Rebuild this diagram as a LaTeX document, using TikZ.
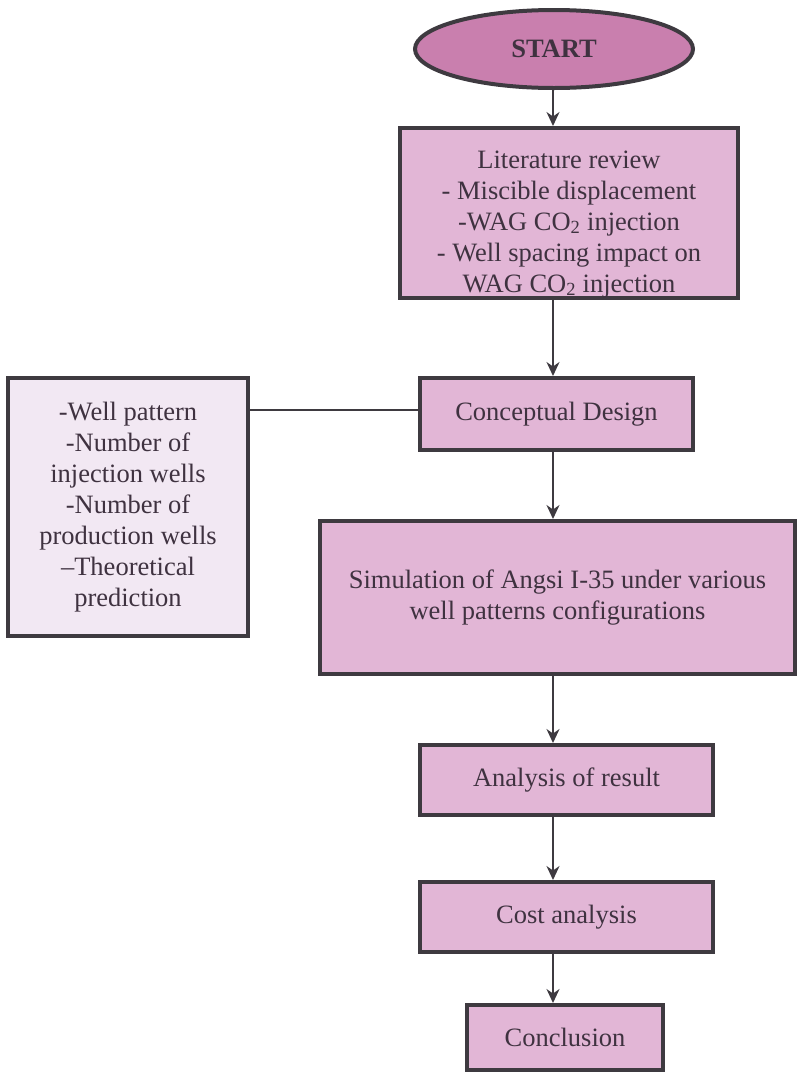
\documentclass[tikz,border=0pt]{standalone}
\usepackage{tikz}
\usetikzlibrary{positioning,arrows.meta,shapes.geometric}
\usepackage{fontspec}
\setmainfont{Liberation Serif}
\usepackage{xcolor}
\definecolor{boxpink}{HTML}{E2B6D6}
\definecolor{startpink}{HTML}{C97FAE}
\definecolor{sidelilac}{HTML}{F2E8F3}
\definecolor{edgegray}{HTML}{3E3A40}
\definecolor{inkgray}{HTML}{3F3240}

\begin{document}
\begin{tikzpicture}[x=1pt,y=-1pt,>={Stealth[length=14pt,width=13pt]},
	font=\fontsize{26.5}{31}\selectfont,
	every node/.style={text=inkgray, align=center, inner sep=0pt},
	stepbox/.style={draw=edgegray, line width=4pt, fill=boxpink, rectangle},%
	sidebox/.style={stepbox, fill=sidelilac},%
	link/.style={draw=edgegray, line width=2pt}]
	\useasboundingbox (0,0) rectangle (796,1074);

	\node[ellipse, draw=edgegray, line width=4pt, fill=startpink,
		minimum width=278pt, minimum height=78pt] (start) at (554,49) {\textbf{START}};
	\node[stepbox, minimum width=338pt, minimum height=170pt] (lit) at (569,213)
		{\rule{0pt}{40pt}Literature review\\ - Miscible displacement\\ -WAG CO\textsubscript{2} injection\\
		 - Well spacing impact on\\ WAG CO\textsubscript{2} injection};
	\node[stepbox, minimum width=273pt, minimum height=72pt] (concept) at (556.5,414) {Conceptual Design};
	\node[sidebox, minimum width=240pt, minimum height=258pt] (side) at (128,507)
		{-Well pattern\\ -Number of\\ injection wells\\ -Number of\\ production wells\\ –Theoretical\\ prediction};
	\node[stepbox, minimum width=475pt, minimum height=153pt] (sim) at (557.5,597.5)
		{Simulation of Angsi I-35 under various\\ well patterns configurations};
	\node[stepbox, minimum width=293pt, minimum height=70pt] (result) at (566.5,780) {Analysis of result};
	\node[stepbox, minimum width=293pt, minimum height=70pt] (cost) at (566.5,917) {Cost analysis};
	\node[stepbox, minimum width=196pt, minimum height=65pt] (concl) at (565,1037.5) {Conclusion};

	\coordinate (axis) at (553,0);
	\foreach \a/\b in {start/lit,lit/concept,concept/sim,sim/result,result/cost,cost/concl}{
		\draw[link,->] (\a.south -| axis)--(\b.north -| axis);
	}
	\draw[link] (side.east |- 0,410)--(concept.west |- 0,410);
\end{tikzpicture}
\end{document}
